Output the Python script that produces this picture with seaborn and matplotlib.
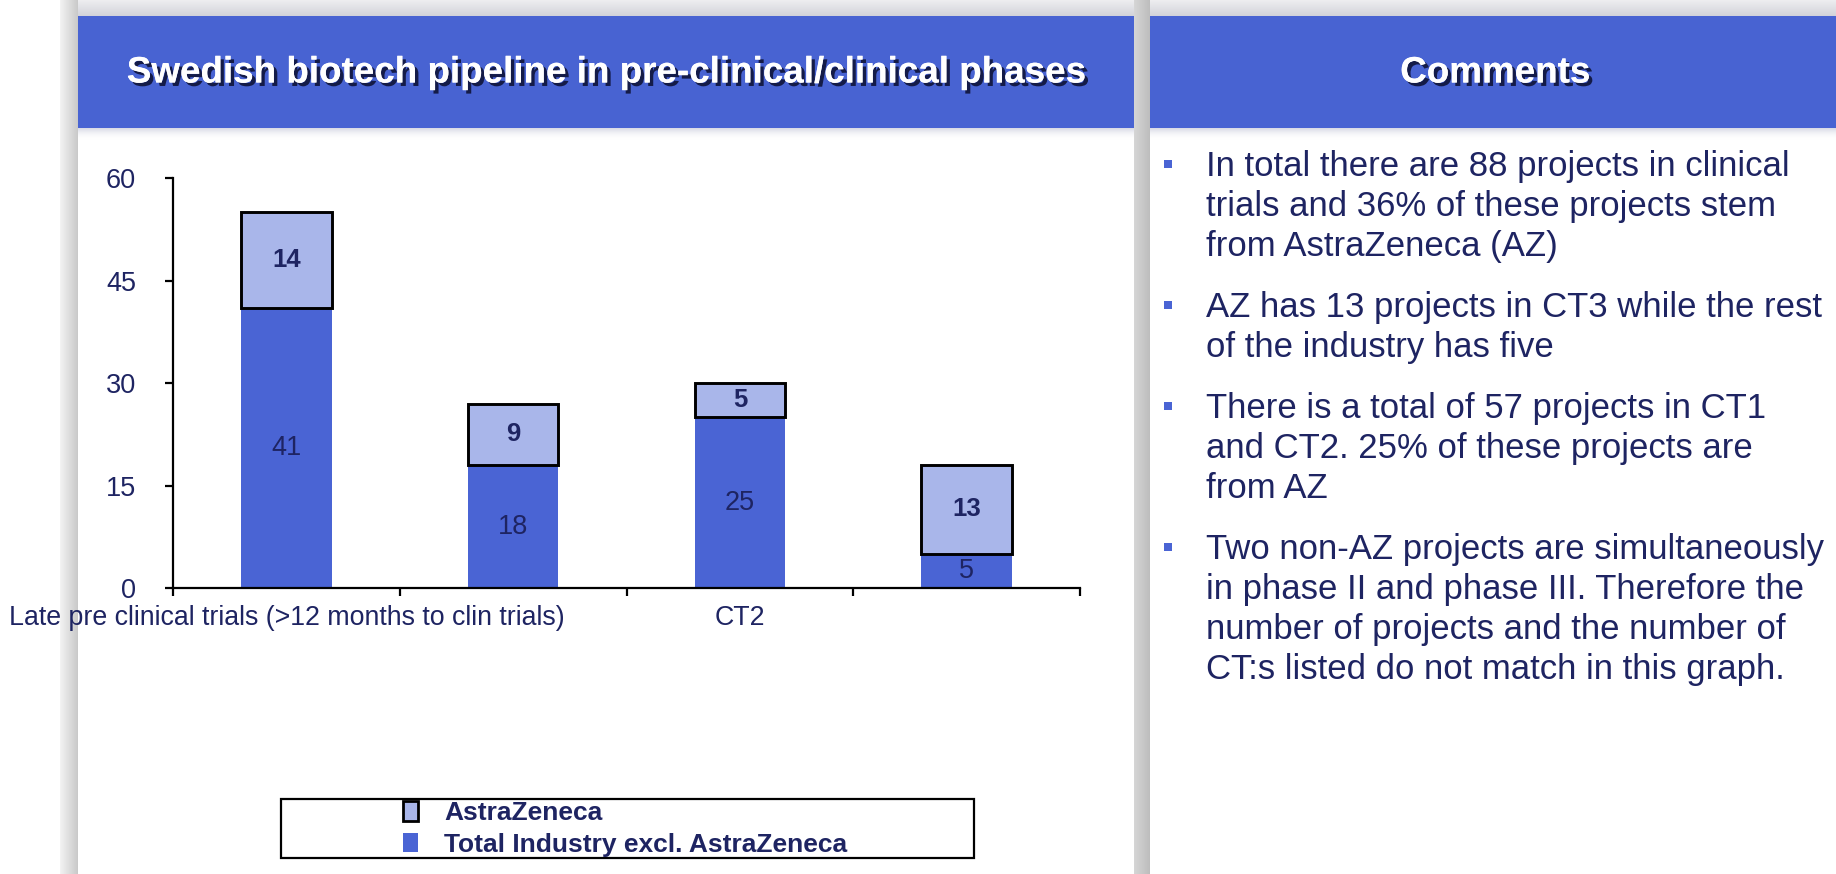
import matplotlib
matplotlib.use("Agg")
import matplotlib.pyplot as plt
import matplotlib.patheffects as pe
from matplotlib.patches import Rectangle, Patch
from matplotlib.colors import to_rgba
import numpy as np
import seaborn as sns

# ---------------- data ----------------
categories = ["Late pre clinical trials (>12 months to clin trials)", "CT1", "CT2", "CT3"]
tick_labels = ["Late pre clinical trials (>12 months to clin trials)", "", "CT2", ""]
industry = [41, 18, 25, 5]
astrazeneca = [14, 9, 5, 13]
y_ticks = [0, 15, 30, 45, 60]
series_names = ["AstraZeneca", "Total Industry excl. AstraZeneca"]
chart_title = "Swedish biotech pipeline in pre-clinical/clinical phases"
comments_title = "Comments"
comments = [
    ["In total there are 88 projects in clinical",
     "trials and 36% of these projects stem",
     "from AstraZeneca (AZ)"],
    ["AZ has 13 projects in CT3 while the rest",
     "of the industry has five"],
    ["There is a total of 57 projects in CT1",
     "and CT2. 25% of these projects are",
     "from AZ"],
    ["Two non-AZ projects are simultaneously",
     "in phase II and phase III. Therefore the",
     "number of projects and the number of",
     "CT:s listed do not match in this graph."],
]

# ---------------- style ----------------
sns.set_theme(style="white")
plt.rcParams['font.family'] = ['Liberation Sans', 'DejaVu Sans']

HEADER = "#4863D2"
DARK = "#4A64D4"
LIGHT = "#A9B6EA"
NAVY = "#1E2462"

W, H = 1836, 874
fig = plt.figure(figsize=(W / 100, H / 100), dpi=100, facecolor="white")

# background / panel decoration in pixel coordinates
bg = fig.add_axes([0, 0, 1, 1], zorder=-10)
bg.set_facecolor("white")


def grad(x0, x1, y0, y1, c0, c1, horizontal=True, z=0):
    t = np.linspace(0, 1, 64)
    a = np.array(to_rgba(c0))
    b = np.array(to_rgba(c1))
    cols = a[None, :] * (1 - t[:, None]) + b[None, :] * t[:, None]
    img = cols[None, :, :] if horizontal else cols[:, None, :]
    bg.imshow(img, extent=(x0, x1, y1, y0), aspect="auto",
              interpolation="bilinear", zorder=z)


grad(60, W, 0, 16, "#eeeef0", "#d2d3da", horizontal=False)
grad(60, 78, 0, H, "#f3f3f3", "#c9c9c9", horizontal=True)
grad(1134, 1150, 0, H, "#d6d6d6", "#bdbdbd", horizontal=True)

bg.add_patch(Rectangle((78, 16), 1134 - 78, 112, facecolor=HEADER, edgecolor="none", zorder=2))
bg.add_patch(Rectangle((1150, 16), W - 1150, 112, facecolor=HEADER, edgecolor="none", zorder=2))
grad(78, 1134, 128, 140, (0.55, 0.57, 0.7, 0.35), (1, 1, 1, 0), horizontal=False, z=1)
grad(1150, W, 128, 140, (0.55, 0.57, 0.7, 0.35), (1, 1, 1, 0), horizontal=False, z=1)

shadow = [pe.withSimplePatchShadow(offset=(2.5, -2.5), shadow_rgbFace="#0b0f30", alpha=0.85),
          pe.Normal()]
bg.text(606, 73, chart_title, color="white", fontsize=26.5, fontweight="bold",
        ha="center", va="center", path_effects=shadow, zorder=5)
bg.text(1495, 73, comments_title, color="white", fontsize=26.5, fontweight="bold",
        ha="center", va="center", path_effects=shadow, zorder=5)

# comments text
y = 176
for bullet in comments:
    bg.add_patch(Rectangle((1164, y - 16), 8, 8, facecolor=DARK, edgecolor="none", zorder=5))
    for line in bullet:
        bg.text(1206, y, line, color=NAVY, fontsize=25, ha="left", va="baseline", zorder=5)
        y += 40
    y += 21

# legend frame
bg.add_patch(Rectangle((281, 799), 693, 59, fill=False, edgecolor="black", lw=1.6, zorder=5))

bg.set_xlim(0, W)
bg.set_ylim(H, 0)
bg.axis("off")

# ---------------- chart ----------------
ax = fig.add_axes([173 / W, 1 - 588 / H, (1080 - 173) / W, 410 / H])
ax.set_facecolor("none")

sns.barplot(x=categories, y=industry, order=categories, color=DARK, saturation=1,
            width=0.4, linewidth=0, edgecolor=DARK, ax=ax)
sns.barplot(x=categories, y=astrazeneca, order=categories, bottom=industry, color=LIGHT,
            saturation=1, width=0.4, linewidth=2.1, edgecolor="black", ax=ax)

ax.bar_label(ax.containers[0], labels=[str(v) for v in industry], label_type="center",
             fontsize=19.5, color=NAVY)
ax.bar_label(ax.containers[1], labels=[str(v) for v in astrazeneca], label_type="center",
             fontsize=18.5, color=NAVY, fontweight="bold")

ax.set_xlim(-0.5, 3.5)
ax.set_ylim(0, 60)
ax.set_yticks(y_ticks)
ax.set_xticks(range(len(categories)))
ax.set_xticklabels(tick_labels)
ax.set_xticks(np.arange(-0.5, len(categories), 1.0), minor=True)
ax.set_xlabel("")
ax.set_ylabel("")

ax.tick_params(axis="x", which="major", length=0, pad=12, labelsize=19.3, labelcolor=NAVY, bottom=True)
ax.tick_params(axis="x", which="minor", length=5.5, width=1.6, direction="out",
               color="black", bottom=True)
ax.tick_params(axis="y", length=5.5, width=1.6, direction="out", color="black",
               pad=21, labelsize=19.5, labelcolor=NAVY, left=True)
sns.despine(ax=ax)
for s in ("left", "bottom"):
    ax.spines[s].set_linewidth(1.6)
    ax.spines[s].set_color("black")

# legend
handles = [Patch(facecolor=LIGHT, edgecolor="black", linewidth=2),
           Patch(facecolor=DARK, edgecolor="none")]
leg = fig.legend(handles, series_names, loc="upper left",
                 bbox_to_anchor=(403 / W, 1 - 801 / H), frameon=False,
                 borderpad=0, borderaxespad=0, handlelength=0.57, handleheight=0.76,
                 handletextpad=1.0, labelspacing=0.3,
                 prop={"weight": "bold", "size": 19})
for t in leg.get_texts():
    t.set_color(NAVY)

fig.savefig("out.png", dpi=100, facecolor="white")
